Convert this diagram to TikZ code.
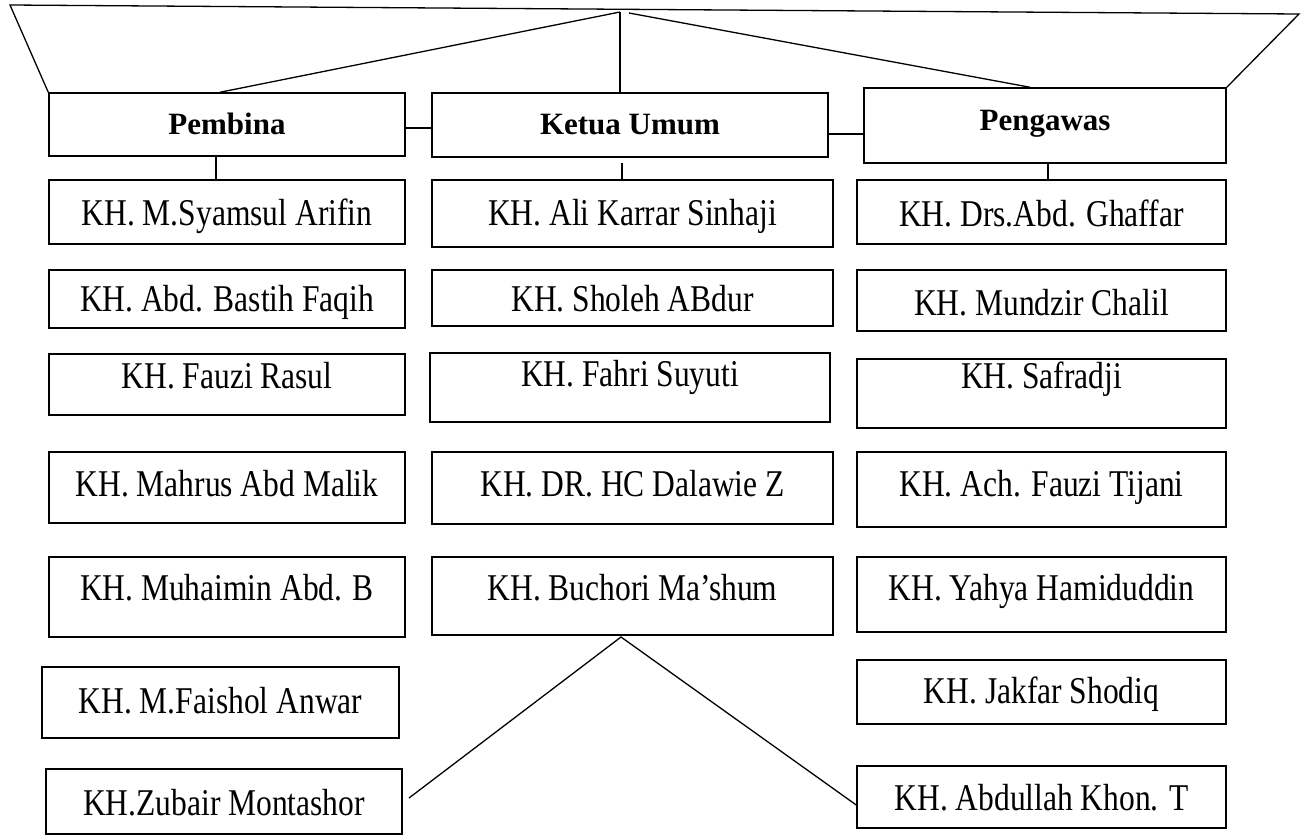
\documentclass[tikz,border=0pt]{standalone}
\usepackage{fontspec}
\setmainfont{Liberation Serif}
\tikzset{
  box/.style={draw, line width=1.5pt, inner sep=0pt, rectangle},
  txt/.style={anchor=base, inner sep=0pt, font=\fontsize{31.5}{36}\selectfont},
  htxt/.style={anchor=base, inner sep=0pt, font=\fontsize{31}{36}\selectfont\bfseries},
  conn/.style={line width=1.3pt}
}
\newcommand{\orgbox}[8]{% style, name, l, t, r, b, text baseline y, text
  \node[box, minimum width={(#5-#3)*1pt}, minimum height={(#6-#4)*1pt}] (#2) at ({(#3+#5)/2},{(#4+#6)/2}) {};
  \node[#1] (#2t) at ({(#3+#5)/2},#7) {#8};
}
\newcommand{\tall}[1]{\scalebox{1}[1.2]{#1}}
\begin{document}
\begin{tikzpicture}[x=1pt,y=-1pt]
\useasboundingbox (0,0) rectangle (1301,836);
% headers
\orgbox{htxt}{pemb}{49}{93}{405}{156}{134}{Pembina}
\orgbox{htxt}{ketua}{432}{93}{828}{157}{134}{Ketua Umum}
\orgbox{htxt}{peng}{864}{88}{1226}{163}{130}{Pengawas}
% column 1
\orgbox{txt}{a1}{49}{180}{405}{244}{225}{\tall{KH. M.Syamsul Arifin}}
\orgbox{txt}{a2}{49}{270}{405}{328}{311}{\tall{KH. Abd. Bastih Faqih}}
\orgbox{txt}{a3}{49}{354}{405}{415}{388}{\tall{KH. Fauzi Rasul}}
\orgbox{txt}{a4}{49}{452}{405}{523}{496}{\tall{KH. Mahrus Abd Malik}}
\orgbox{txt}{a5}{49}{557}{405}{637}{600}{\tall{KH. Muhaimin Abd. B}}
\orgbox{txt}{a6}{42}{667}{399}{738}{713}{\tall{KH. M.Faishol Anwar}}
\orgbox{txt}{a7}{46}{769}{402}{834}{815}{\tall{KH.Zubair Montashor}}
% column 2
\orgbox{txt}{b1}{432}{180}{833}{247}{225}{\tall{KH. Ali Karrar Sinhaji}}
\orgbox{txt}{b2}{432}{270}{833}{326}{311}{\tall{KH. Sholeh ABdur}}
\orgbox{txt}{b3}{430}{353}{830}{422}{386}{\tall{KH. Fahri Suyuti}}
\orgbox{txt}{b4}{432}{452}{833}{524}{496}{\tall{KH. DR. HC Dalawie Z}}
\orgbox{txt}{b5}{432}{557}{833}{635}{600}{\tall{KH. Buchori Ma’shum}}
% column 3
\orgbox{txt}{c1}{857}{180}{1226}{244}{226}{\tall{KH. Drs.Abd. Ghaffar}}
\orgbox{txt}{c2}{857}{270}{1226}{331}{315}{\tall{KH. Mundzir Chalil}}
\orgbox{txt}{c3}{857}{359}{1226}{428}{388}{\tall{KH. Safradji}}
\orgbox{txt}{c4}{857}{452}{1226}{527}{496}{\tall{KH. Ach. Fauzi Tijani}}
\orgbox{txt}{c5}{857}{557}{1226}{632}{600}{\tall{KH. Yahya Hamiduddin}}
\orgbox{txt}{c6}{857}{660}{1226}{724}{703}{\tall{KH. Jakfar Shodiq}}
\orgbox{txt}{c7}{857}{766}{1226}{828}{810}{\tall{KH. Abdullah Khon. T}}
% top frame
\coordinate (tl) at (10,5);
\coordinate (tr) at (1299,14);
\coordinate (apex) at (620,12);
\coordinate (apexr) at (629,13);
\draw[conn] (pemb.north west) -- (tl) -- (tr) -- (peng.north east);
\draw[conn] (apex) -- (220,93 |- pemb.north);
\draw[conn] (apex) -- (apex |- ketua.north);
\draw[conn] (apexr) -- (1030,88 |- peng.north);
% header links
\draw[conn] (pemb.east |- 0,128) -- (ketua.west |- 0,128);
\draw[conn] (ketua.east |- 0,134) -- (peng.west |- 0,134);
\draw[conn] (216,156 |- pemb.south) -- (216,180 |- a1.north);
\coordinate (kd) at (622,163);
\draw[conn] (kd) -- (kd |- b1.north);
\draw[conn] (1048,163 |- peng.south) -- (1048,180 |- c1.north);
% bottom links
\coordinate (bapex) at (621,637);
\coordinate (zend) at (409,798);
\draw[conn] (zend) -- (bapex) -- (c7.west |- 0,805);
\end{tikzpicture}
\end{document}
